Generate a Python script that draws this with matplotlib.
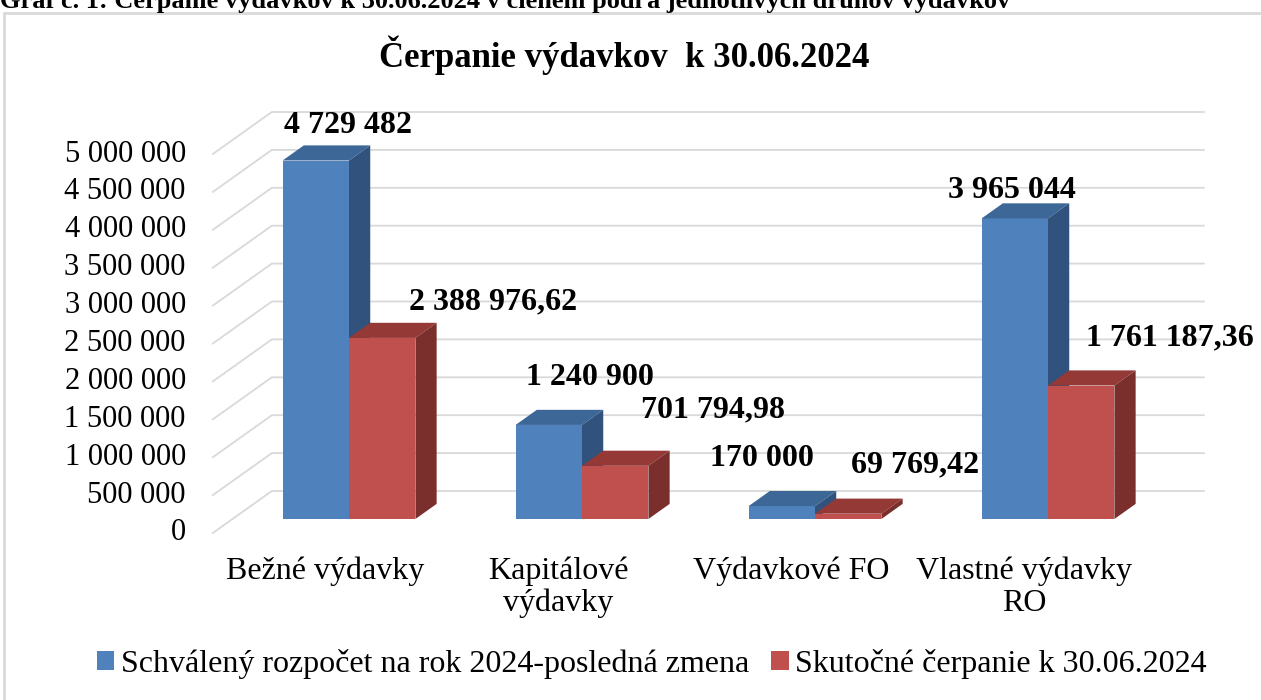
import matplotlib
matplotlib.use("Agg")
import matplotlib.pyplot as plt
from matplotlib.patches import Polygon, Rectangle

plt.rcParams['font.family'] = ['Liberation Serif', 'DejaVu Serif']

categories = ['Bežné výdavky', 'Kapitálové\nvýdavky', 'Výdavkové FO', 'Vlastné výdavky\nRO']
series_names = ['Schválený rozpočet na rok 2024-posledná zmena', 'Skutočné čerpanie k 30.06.2024']
schvaleny = [4729482, 1240900, 170000, 3965044]
skutocne = [2388976.62, 701794.98, 69769.42, 1761187.36]
label_schvaleny = ['4 729 482', '1 240 900', '170 000', '3 965 044']
label_skutocne = ['2 388 976,62', '701 794,98', '69 769,42', '1 761 187,36']
yticks = list(range(0, 5000001, 500000))
ytick_labels = ['{:,}'.format(v).replace(',', ' ') for v in yticks]

# colours: front, top, side
blue = ('#4F81BD', '#3D6797', '#31527C')
red = ('#C0504D', '#943936', '#7A2F2D')

# layout in pixels
W, H = 1261, 700
px_cat = 233.0           # pixels between categories
px_val = 75.8e-6         # pixels per unit of value
x0_px, y0_px = 349.0, 519.0   # pixel of category 0 / value 0 on the bar front plane
depth_px = (59.0, 42.0)  # floor depth vector (right, up)
f_front = 1 / 3          # bar front plane position in the floor depth
f_bar = 0.36             # bar depth as a fraction of floor depth
bar_w = 0.285

fig = plt.figure(figsize=(W / 100, H / 100), dpi=100)
xlim = (-0.75, 3.95)
ylim = (-0.35e6, 5.8e6)
left = x0_px + xlim[0] * px_cat
right = x0_px + xlim[1] * px_cat
bottom = y0_px + (-ylim[0]) * px_val
top = y0_px - ylim[1] * px_val
ax = fig.add_axes([left / W, 1 - bottom / H, (right - left) / W, (bottom - top) / H])
ax.set_xlim(xlim)
ax.set_ylim(ylim)
ax.axis('off')

Dx = depth_px[0] / px_cat
Dy = depth_px[1] / px_val

# gridlines: side wall diagonal + back wall horizontal
for v, lab in zip(yticks, ytick_labels):
    xs = [-0.5 - f_front * Dx, -0.5 + (1 - f_front) * Dx, 3.5 + (1 - f_front) * Dx]
    ys = [v - f_front * Dy, v + (1 - f_front) * Dy, v + (1 - f_front) * Dy]
    ax.plot(xs, ys, color='#D9D9D9', lw=1.3, zorder=1, clip_on=False)
    ax.text(-0.5 - f_front * Dx - 27 / px_cat, v - f_front * Dy, lab, ha='right', va='center',
            fontsize=22, color='#000000', clip_on=False)

ddx, ddy = f_bar * Dx, f_bar * Dy
label_off_b = [(32, 35), (41, 47), (-20, 48), (-3, 28)]
label_off_r = [(111, 36), (98, 56), (67, 49), (89, 48)]

idx = range(len(categories))
for vals, labs, offs, cols, shift, name in [
        (schvaleny, label_schvaleny, label_off_b, blue, -bar_w / 2, series_names[0]),
        (skutocne, label_skutocne, label_off_r, red, bar_w / 2, series_names[1])]:
    bars = ax.bar([i + shift for i in idx], vals, width=bar_w, color=cols[0], zorder=3, label=name)
    for b in bars:
        xa, xb, h = b.get_x(), b.get_x() + b.get_width(), b.get_height()
        ax.add_patch(Polygon([(xa, h), (xb, h), (xb + ddx, h + ddy), (xa + ddx, h + ddy)],
                             closed=True, facecolor=cols[1], edgecolor='none', zorder=3))
        ax.add_patch(Polygon([(xb, 0), (xb + ddx, ddy), (xb + ddx, h + ddy), (xb, h)],
                             closed=True, facecolor=cols[2], edgecolor='none', zorder=3))
    for b, lab, (ox, oy) in zip(bars, labs, offs):
        ax.annotate(lab, (b.get_x() + b.get_width() / 2, b.get_height()), xytext=(ox, oy),
                    textcoords='offset pixels', ha='center', va='center', fontsize=23,
                    fontweight='bold', zorder=5, annotation_clip=False)

for i, c in zip(idx, categories):
    ax.text(i - f_front * Dx - 4 / px_cat, -f_front * Dy - 24 / px_val, c, ha='center', va='top',
            fontsize=23, linespacing=1.1, clip_on=False)

fig.text(624 / W, 1 - 55 / H, 'Čerpanie výdavkov  k 30.06.2024', ha='center', va='center',
         fontsize=25, fontweight='bold')
fig.text(0, 1 - 8 / H, 'Graf č. 1: Čerpanie výdavkov k 30.06.2024 v členení podľa jednotlivých druhov výdavkov',
         ha='left', va='baseline', fontsize=19, fontweight='bold')

# chart area border (only top and left are inside the picture)
fig.patches.append(Rectangle((4 / W, -0.05), 1.2, 1 - 13 / H + 0.05, transform=fig.transFigure,
                             fill=False, edgecolor='#D9D9D9', lw=2))

fig.legend(loc='center', bbox_to_anchor=(652 / W, 1 - 664 / H), ncol=2, frameon=False,
           fontsize=23, handlelength=0.55, handleheight=0.55, handletextpad=0.2, columnspacing=0.7)

fig.savefig('out.png', dpi=100)
